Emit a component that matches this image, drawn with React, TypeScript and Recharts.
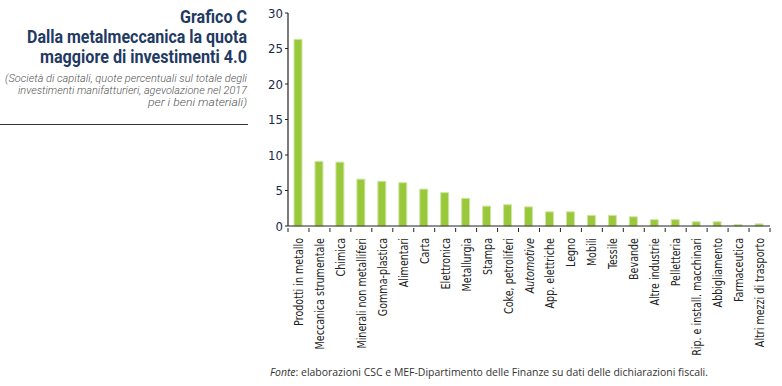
import { BarChart, Bar, XAxis, YAxis } from 'recharts';

const categories = [
  'Prodotti in metallo',
  'Meccanica strumentale',
  'Chimica',
  'Minerali non metalliferi',
  'Gomma-plastica',
  'Alimentari',
  'Carta',
  'Elettronica',
  'Metallurgia',
  'Stampa',
  'Coke, petroliferi',
  'Automotive',
  'App. elettriche',
  'Legno',
  'Mobili',
  'Tessile',
  'Bevande',
  'Altre industrie',
  'Pelletteria',
  'Rip. e install. macchinari',
  'Abbigliamento',
  'Farmaceutica',
  'Altri mezzi di trasporto',
];

const quote = [26.3, 9.1, 9.0, 6.6, 6.3, 6.1, 5.2, 4.7, 3.9, 2.8, 3.0, 2.7, 2.0, 2.0, 1.5, 1.5, 1.3, 0.9, 0.9, 0.6, 0.6, 0.2, 0.3];

const yTicks = [0, 5, 10, 15, 20, 25, 30];

const data = categories.map((name, i) => ({ name, value: quote[i] }));

const CHART_W = 522;
const MARGIN_R = 12;
const Y_W = 28;
const BAND = (CHART_W - MARGIN_R - Y_W) / categories.length;

const narrow = '"DejaVu Sans Condensed", "DejaVu Sans", sans-serif';

function CategoryTick(props: any) {
  const { x, y, payload, index } = props;
  const italic = payload.value === 'Automotive';
  return (
    <g>
      <line x1={x - BAND / 2} y1={y - 6} x2={x - BAND / 2} y2={y - 2} stroke="#222" strokeWidth={1} />
      {index === categories.length - 1 && (
        <line x1={x + BAND / 2} y1={y - 6} x2={x + BAND / 2} y2={y - 2} stroke="#222" strokeWidth={1} />
      )}
      <text
        x={0}
        y={0}
        transform={`translate(${x + 4.5},${y + 4}) rotate(-90) scale(0.85,1)`}
        textAnchor="end"
        fontSize={12.5}
        fontStyle={italic ? 'italic' : 'normal'}
        fill="#222"
        fontFamily={narrow}
      >
        {payload.value}
      </text>
    </g>
  );
}

export default function App() {
  return (
    <div style={{ position: 'absolute', left: 0, top: 0, width: 782, height: 386, background: '#fff' }}>
      <svg width={782} height={386} style={{ position: 'absolute', left: 0, top: 0 }}>
        <g fontFamily="Roboto, sans-serif" fontWeight={700} fontSize={18} fill="#1f3a63" textAnchor="end">
          <text x={247} y={23} textLength={67} lengthAdjust="spacingAndGlyphs">Grafico C</text>
          <text x={247} y={43} textLength={220} lengthAdjust="spacingAndGlyphs">Dalla metalmeccanica la quota</text>
          <text x={247} y={63} textLength={207} lengthAdjust="spacingAndGlyphs">maggiore di investimenti 4.0</text>
        </g>
        <g fontFamily="Roboto, sans-serif" fontStyle="italic" fontWeight={300} fontSize={11} fill="#555" textAnchor="end">
          <text x={247} y={82} textLength={242} lengthAdjust="spacingAndGlyphs">(Società di capitali, quote percentuali sul totale degli</text>
          <text x={247} y={94} textLength={229} lengthAdjust="spacingAndGlyphs">investimenti manifatturieri, agevolazione nel 2017</text>
          <text x={247} y={106} textLength={99} lengthAdjust="spacingAndGlyphs">per i beni materiali)</text>
        </g>
        <line x1={0} y1={124.5} x2={248} y2={124.5} stroke="#333" strokeWidth={1} />
        <text x={270} y={376} fontFamily='"Open Sans", sans-serif' fontSize={11} fill="#333" textLength={438} lengthAdjust="spacingAndGlyphs">
          <tspan fontStyle="italic">Fonte</tspan>: elaborazioni CSC e MEF-Dipartimento delle Finanze su dati delle dichiarazioni fiscali.
        </text>
      </svg>

      <div style={{ position: 'absolute', left: 260, top: 0 }}>
        <BarChart width={CHART_W} height={360} data={data} margin={{ top: 13, right: MARGIN_R, bottom: 0, left: 0 }} barCategoryGap={0}>
          <XAxis
            dataKey="name"
            interval={0}
            height={134}
            tickLine={false}
            axisLine={{ stroke: '#222', strokeWidth: 1.2 }}
            tick={<CategoryTick />}
          />
          <YAxis
            width={Y_W}
            domain={[0, 30]}
            ticks={yTicks}
            interval={0}
            tickSize={3}
            tickLine={{ stroke: '#222' }}
            axisLine={{ stroke: '#222', strokeWidth: 1.2 }}
            tick={{ fontSize: 13, fill: '#1a2a4a', fontFamily: narrow }}
          />
          <Bar dataKey="value" fill="#9ac83b" stroke="#cfe6a6" strokeWidth={1} barSize={8} isAnimationActive={false} />
        </BarChart>
      </div>
    </div>
  );
}
